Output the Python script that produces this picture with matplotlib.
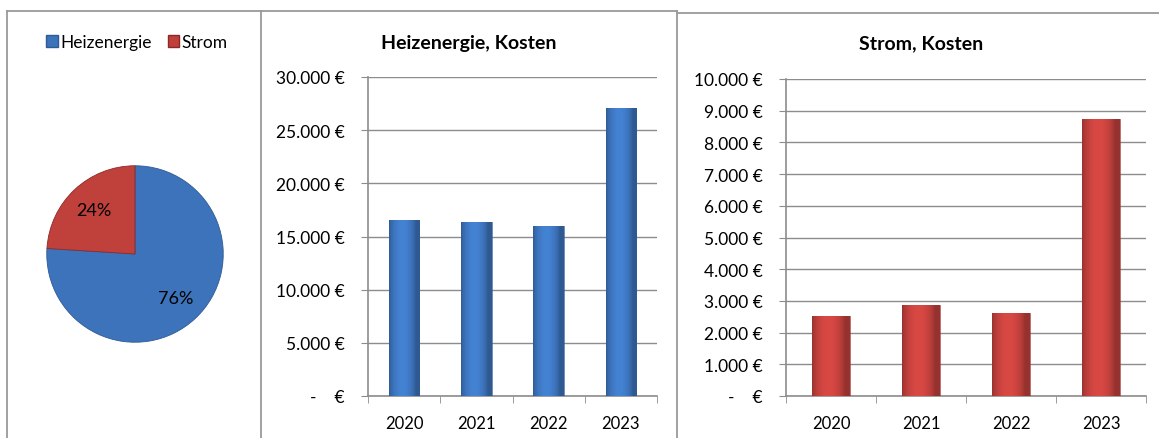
import numpy as np
import matplotlib.pyplot as plt
from matplotlib.patches import Patch
from matplotlib.lines import Line2D
from matplotlib.ticker import FuncFormatter, FixedLocator

plt.rcParams['font.family'] = ['Lato', 'DejaVu Sans']

# data
jahre = ['2020', '2021', '2022', '2023']
heiz_kosten = [16550, 16360, 15960, 27050]
strom_kosten = [2510, 2870, 2620, 8740]
anteil_labels = ['Heizenergie', 'Strom']
anteil_werte = [76, 24]

blau = '#3c73bb'
rot = '#c0403c'
W, H = 1159, 439

fig = plt.figure(figsize=(W / 100, H / 100), dpi=100)


def px_axes(left, top, right, bottom):
    # pixel box -> figure fraction
    return fig.add_axes([left / W, 1 - bottom / H, (right - left) / W, (bottom - top) / H])


def euro(v, pos=None):
    if v == 0:
        return '-    €'
    return f'{v:,.0f}'.replace(',', '.') + ' €'


def shade_bars(ax, bars, color):
    # gradient to mimic the excel bevel look
    base = np.array(plt.matplotlib.colors.to_rgb(color))
    x = np.linspace(0, 1, 64)
    fac = 0.78 + 0.35 * np.sin(np.pi * np.clip(x * 1.15, 0, 1)) ** 0.7
    img = np.clip(base[None, :] * fac[:, None], 0, 1)[None, :, :]
    for b in bars:
        x0, y0 = b.get_x(), b.get_y()
        w, h = b.get_width(), b.get_height()
        im = ax.imshow(img, extent=[x0, x0 + w, y0, y0 + h], aspect='auto',
                       zorder=b.get_zorder(), interpolation='bilinear')
        im.set_clip_path(b)
        b.set_facecolor('none')
        b.set_edgecolor((base * 0.85))
        b.set_linewidth(0.5)


def bar_panel(ax, values, color, ymax, step, title, title_x):
    x = np.arange(len(jahre))
    bars = ax.bar(x, values, width=0.42, color=color, zorder=3)
    shade_bars(ax, bars, color)
    ax.set_xlim(-0.5, len(jahre) - 0.5)
    ax.set_ylim(0, ymax)
    ax.set_yticks(np.arange(0, ymax + 1, step))
    ax.yaxis.set_major_formatter(FuncFormatter(euro))
    ax.set_xticks(x)
    ax.set_xticklabels(jahre)
    ax.xaxis.set_minor_locator(FixedLocator(np.arange(-0.5, len(jahre), 1)))
    ax.tick_params(axis='x', which='major', length=0, pad=14, labelsize=12)
    ax.tick_params(axis='x', which='minor', length=5, color='#8c8c8c', direction='out')
    ax.tick_params(axis='y', length=5, color='#8c8c8c', pad=12, labelsize=12.5)
    ax.grid(axis='y', color='#8c8c8c', linewidth=1, zorder=0)
    for s in ['top', 'right']:
        ax.spines[s].set_visible(False)
    for s in ['left', 'bottom']:
        ax.spines[s].set_color('#8c8c8c')
        ax.spines[s].set_linewidth(1.2)
    fig.text(title_x / W, 1 - 44 / H, title, ha='center', va='center',
             fontsize=14, fontweight='bold')


ax1 = px_axes(368, 78, 657, 397)
bar_panel(ax1, heiz_kosten, blau, 30000, 5000, 'Heizenergie, Kosten', 469)

ax2 = px_axes(786, 80, 1146, 397)
bar_panel(ax2, strom_kosten, rot, 10000, 1000, 'Strom, Kosten', 921)

# pie
axp = px_axes(45, 165, 225, 345)
wedges, texts, autotexts = axp.pie(anteil_werte, colors=[blau, rot], startangle=90,
                                   counterclock=False, radius=1, autopct='%d%%',
                                   pctdistance=0.68,
                                   wedgeprops=dict(edgecolor='#2f5a94', linewidth=0.6),
                                   textprops=dict(fontsize=13))
wedges[1].set_edgecolor('#8a2a28')
axp.set_xlim(-1.02, 1.02)
axp.set_ylim(-1.02, 1.02)
axp.set_aspect('equal')

fig.legend(handles=[Patch(facecolor=blau, edgecolor='#2f5a94', label=anteil_labels[0]),
                    Patch(facecolor=rot, edgecolor='#8a2a28', label=anteil_labels[1])],
           loc='center', bbox_to_anchor=(137 / W, 1 - 43 / H), ncol=2, frameon=False,
           fontsize=12.5, handlelength=0.65, handleheight=0.65, handletextpad=0.15,
           columnspacing=0.9)

# panel frames
rahmen = '#9a9a9a'
fig.add_artist(Line2D([7 / W, 677 / W], [1 - 12 / H, 1 - 12 / H], color=rahmen, lw=1.3))
fig.add_artist(Line2D([7 / W, 7 / W], [0, 1 - 12 / H], color=rahmen, lw=1.3))
fig.add_artist(Line2D([261 / W, 261 / W], [0, 1 - 12 / H], color=rahmen, lw=1.3))
fig.add_artist(Line2D([677 / W, 677 / W], [0, 1 - 12 / H], color=rahmen, lw=1.3))
fig.add_artist(Line2D([677 / W, 1], [1 - 13.5 / H, 1 - 13.5 / H], color=rahmen, lw=1.3))

fig.savefig('out.png', dpi=100)
